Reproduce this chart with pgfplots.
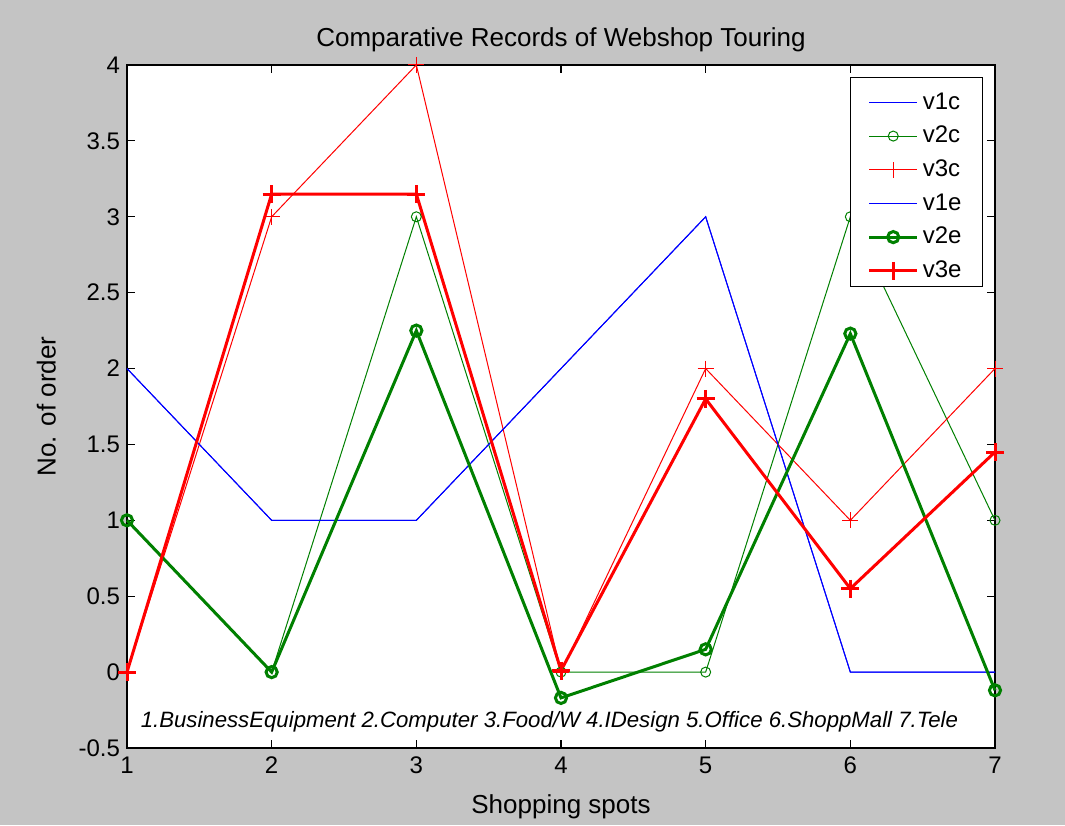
\documentclass[border=0pt]{standalone}
\usepackage{pgfplots}
\pgfplotsset{compat=1.18}
\usepackage{fontspec}
\setmainfont{Liberation Sans}
\definecolor{bgg}{RGB}{196,196,196}
\definecolor{mgreen}{RGB}{0,128,0}
\pgfplotsset{myleg/.style={legend image code/.code={\color{#1}%
  \draw[#1, mark repeat=2,mark phase=2] plot coordinates {(0pt,0pt) (12pt,0pt) (24pt,0pt)};}}}
\begin{document}
\begin{tikzpicture}[x=0.5pt,y=0.5pt]
\fill[bgg] (0,0) rectangle (1065,825);
\begin{axis}[
  at={(63.5pt,38.5pt)}, anchor=south west,
  scale only axis, width=434pt, height=341.5pt,
  xmin=1, xmax=7, ymin=-0.5, ymax=4,
  xtick={1,...,7}, ytick={-0.5,0,0.5,1,1.5,2,2.5,3,3.5,4},
  tick align=inside, tick pos=both, major tick length=4pt,
  axis line style={line width=0.75pt},
  every tick/.style={black, line width=0.6pt},
  axis background/.style={fill=white},
  /pgf/number format/assume math mode=true,
  tick label style={font=\fontsize{12}{14}\selectfont},
  xticklabel style={yshift=-1pt},
  title={Comparative Records of Webshop Touring},
  title style={font=\fontsize{13}{15}\selectfont, yshift=-3pt},
  xlabel={Shopping spots}, ylabel={No. of order},
  label style={font=\fontsize{13}{15}\selectfont},
  xlabel style={yshift=-3.5pt},
  ylabel style={yshift=4.5pt},
  legend style={at={(0.986,0.982)}, anchor=north east, draw=black, fill=white,
    font=\fontsize{12}{14}\selectfont, row sep=3pt, inner xsep=8.5pt, inner ysep=1pt},
  legend cell align=left,
  clip=false,
]
\addlegendimage{legend image code/.code={\draw[white,line width=0.1pt] (0pt,0pt) -- (24pt,0pt);}}
\addlegendentry[font=\fontsize{1}{1}\selectfont, inner sep=0pt]{}
\addplot[blue, line width=0.5pt, myleg=blue] coordinates {(1,2) (2,1) (3,1) (4,2) (5,3) (6,0) (7,0)};
\addlegendentry{v1c}
\addplot[mgreen, line width=0.5pt, mark=o, mark size=2.5pt, myleg=mgreen] coordinates {(1,1) (2,0) (3,3) (4,0) (5,0) (6,3) (7,1)};
\addlegendentry{v2c}
\addplot[red, line width=0.5pt, mark=+, mark size=4pt, myleg=red] coordinates {(1,0) (2,3) (3,4) (4,0) (5,2) (6,1) (7,2)};
\addlegendentry{v3c}
\addplot[blue, line width=0.5pt, myleg=blue] coordinates {(1,2) (2,1) (3,1) (4,2) (5,3) (6,0) (7,0)};
\addlegendentry{v1e}
\addplot[mgreen, line width=1.5pt, mark=o, mark size=2.8pt, myleg=mgreen] coordinates {(1,1) (2,0) (3,2.25) (4,-0.17) (5,0.15) (6,2.23) (7,-0.12)};
\addlegendentry{v2e}
\addplot[red, line width=1.5pt, mark=+, mark size=4.5pt, myleg=red] coordinates {(1,0) (2,3.15) (3,3.15) (4,0.01) (5,1.8) (6,0.55) (7,1.45)};
\addlegendentry{v3e}
\node[font=\itshape\fontsize{11.1}{13}\selectfont] at (axis cs:3.92,-0.33) {1.BusinessEquipment 2.Computer 3.Food/W 4.IDesign 5.Office 6.ShoppMall 7.Tele};
\end{axis}
\end{tikzpicture}
\end{document}
